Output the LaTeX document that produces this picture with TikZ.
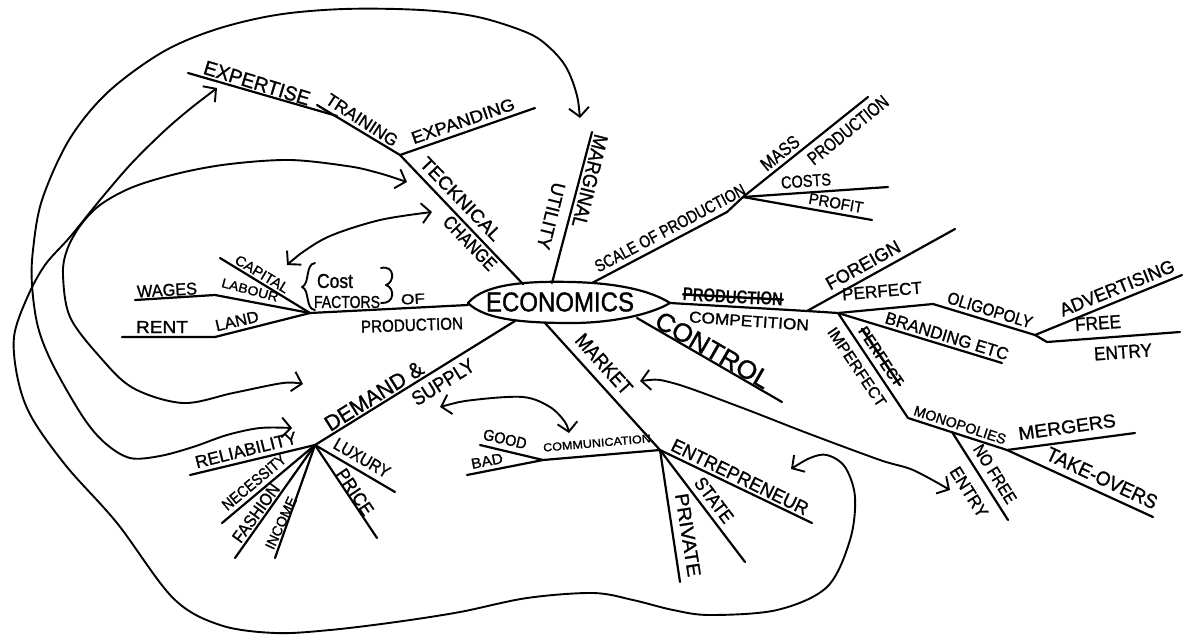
\documentclass[tikz,border=0pt]{standalone}
\usepackage{fontspec}
\setmainfont{Liberation Sans}[UprightFeatures={FakeBold=1.2}]
\usetikzlibrary{arrows.meta}
% set a label to a given width and cap height (both in pt)
\newcommand\handw[3]{\resizebox{#1pt}{#2pt}{#3}}
\begin{document}
\begin{tikzpicture}[x=1pt,y=-1pt,
  br/.style={line width=2.2pt,line cap=round,line join=round},
  cv/.style={line width=1.9pt,line cap=round,line join=round},
  both/.style={cv,{Straight Barb[length=9pt,width=20pt]}-{Straight Barb[length=9pt,width=20pt]}},
  tx/.style={inner sep=0pt,outer sep=0pt},
  strike/.style={line width=2.4pt,line cap=round}]
\useasboundingbox (0,0) rectangle (1186,638);

% ---------- central lens ----------
\draw[br] (468,303) .. controls (485,283) and (530,281) .. (572,282)
  .. controls (615,283) and (650,290) .. (670,303)
  .. controls (650,315) and (610,323) .. (572,323)
  .. controls (525,323) and (485,320) .. (468,303) -- cycle;
\node[tx] (econ) at (560,302) {\handw{148}{19}{ECONOMICS}};

\coordinate (eW) at (468,305);
\coordinate (eNW) at (523,284);
\coordinate (eN) at (552,283);
\coordinate (eNE) at (592,283);
\coordinate (eE) at (670,303);
\coordinate (eSE) at (637,318);
\coordinate (eS) at (545,323);
\coordinate (eSW) at (515,321);

% ---------- technical change ----------
\coordinate (jTech) at (400,155);
\coordinate (expandEnd) at (535,108);
\coordinate (trainEnd) at (317,105);
\coordinate (expertA) at (337,116);
\coordinate (expertB) at (188,73);
\draw[br] (eNW) -- (jTech) -- (expandEnd);
\draw[br] (jTech) -- (trainEnd);
\draw[br] (expertA) -- (expertB);
\node[tx,rotate=-46] (teck) at (461,199) {\handw{108}{13}{TECKNICAL}};
\node[tx,rotate=-46] (chg) at (470,243) {\handw{68}{13}{CHANGE}};
\node[tx,rotate=19] (expd) at (463,121) {\handw{108}{12}{EXPANDING}};
\node[tx,rotate=-33] (trn) at (362,120) {\handw{82}{12}{TRAINING}};
\node[tx,rotate=-17] (expt) at (257,83) {\handw{110}{14}{EXPERTISE}};

% ---------- marginal utility ----------
\coordinate (muEnd) at (592,132);
\draw[br] (eN) -- (muEnd);
\node[tx,rotate=-104] (marg) at (590,181) {\handw{95}{14}{MARGINAL}};
\node[tx,rotate=-104] (util) at (551,216) {\handw{68}{13}{UTILITY}};

% ---------- scale of production ----------
\coordinate (sBend) at (727,212);
\coordinate (jScale) at (743,197);
\coordinate (massEnd) at (868,97);
\coordinate (costEnd) at (888,187);
\coordinate (profEnd) at (872,220);
\draw[br] (eNE) -- (sBend) -- (jScale) -- (massEnd);
\draw[br] (jScale) -- (costEnd);
\draw[br] (jScale) -- (profEnd);
\node[tx,rotate=28] (scale) at (670,228) {\handw{168}{12}{SCALE OF PRODUCTION}};
\node[tx,rotate=39] (mass) at (780,153) {\handw{44}{13}{MASS}};
\node[tx,rotate=39] (mprod) at (848,130) {\handw{98}{13}{PRODUCTION}};
\node[tx,rotate=4] (costs) at (806,181) {\handw{50}{12}{COSTS}};
\node[tx,rotate=-10] (profit) at (836,203) {\handw{55}{11}{PROFIT}};

% ---------- competition ----------
\coordinate (jFor) at (807,311);
\coordinate (jComp) at (838,313);
\coordinate (forEnd) at (955,229);
\coordinate (perfBend) at (933,304);
\coordinate (jOlig) at (1035,335);
\coordinate (advEnd) at (1182,275);
\coordinate (freeA) at (1047,342);
\coordinate (freeEnd) at (1180,332);
\coordinate (brandEnd) at (1002,363);
\coordinate (jMono) at (908,418);
\coordinate (jNoFree) at (952,432);
\coordinate (nfEnd) at (1008,520);
\coordinate (jMerge) at (1007,450);
\coordinate (mergEnd) at (1135,433);
\coordinate (takeEnd) at (1153,517);
\draw[br] (eE) -- (jFor) -- (jComp) -- (perfBend) -- (jOlig) -- (advEnd);
\draw[br] (jOlig) -- (freeA) -- (freeEnd);
\draw[br] (jFor) -- (forEnd);
\draw[br] (jComp) -- (brandEnd);
\draw[br] (jComp) -- (jMono) -- (jMerge) -- (mergEnd);
\draw[br] (jMerge) -- (takeEnd);
\draw[br] (jNoFree) -- (nfEnd);
\node[tx,rotate=-3,font=\bfseries] (scrib) at (733,297) {\handw{100}{13}{PRODUCTION}};
\draw[strike] (scrib.west) -- (scrib.east);
\node[tx,rotate=-4] (comp) at (749,321) {\handw{120}{11}{COMPETITION}};
\node[tx,rotate=29] (for) at (863,265) {\handw{82}{13}{FOREIGN}};
\node[tx,rotate=5] (perf) at (882,291) {\handw{80}{12}{PERFECT}};
\node[tx,rotate=-17] (olig) at (990,310) {\handw{88}{12}{OLIGOPOLY}};
\node[tx,rotate=22] (adv) at (1117,288) {\handw{122}{13}{ADVERTISING}};
\node[tx,rotate=4] (free) at (1098,323) {\handw{46}{13}{FREE}};
\node[tx,rotate=4] (entry) at (1123,352) {\handw{58}{13}{ENTRY}};
\node[tx,rotate=-17] (brand) at (947,336) {\handw{128}{12}{BRANDING ETC}};
\node[tx,rotate=-56] (imperf) at (857,367) {\handw{92}{11}{IMPERFECT}};
\node[tx,rotate=-56,font=\bfseries] (xperf) at (881,357) {\handw{68}{11}{PERFECT}};
\draw[strike] (xperf.west) -- (xperf.east);
\node[tx,rotate=-18] (mono) at (960,425) {\handw{96}{10}{MONOPOLIES}};
\node[tx,rotate=8] (merg) at (1067,427) {\handw{98}{13}{MERGERS}};
\node[tx,rotate=-25] (take) at (1102,478) {\handw{120}{14}{TAKE-OVERS}};
\node[tx,rotate=-58] (nofree) at (995,474) {\handw{66}{12}{NO FREE}};
\node[tx,rotate=-58] (nfentry) at (969,492) {\handw{56}{12}{ENTRY}};

% ---------- control ----------
\coordinate (ctrlEnd) at (782,402);
\draw[br] (eSE) -- (ctrlEnd);
\node[tx,rotate=-30] (ctrl) at (713,350) {\handw{128}{18}{CONTROL}};

% ---------- market ----------
\coordinate (jMkt) at (660,450);
\coordinate (commMid) at (543,460);
\coordinate (badEnd) at (467,475);
\coordinate (goodEnd) at (480,445);
\coordinate (entEnd) at (812,523);
\coordinate (stateEnd) at (745,562);
\coordinate (privEnd) at (680,582);
\draw[br] (eS) -- (jMkt) -- (commMid) -- (badEnd);
\draw[br] (goodEnd) -- (commMid);
\draw[br] (jMkt) -- (entEnd);
\draw[br] (jMkt) -- (stateEnd);
\draw[br] (jMkt) -- (privEnd);
\node[tx,rotate=-48] (mkt) at (604,364) {\handw{74}{14}{MARKET}};
\node[tx,rotate=5] (comm) at (597,443) {\handw{108}{8}{COMMUNICATION}};
\node[tx,rotate=-13] (good) at (505,439) {\handw{44}{11}{GOOD}};
\node[tx,rotate=11] (bad) at (487,461) {\handw{32}{10}{BAD}};
\node[tx,rotate=-26] (entr) at (740,477) {\handw{150}{13}{ENTREPRENEUR}};
\node[tx,rotate=-53] (state) at (714,500) {\handw{52}{13}{STATE}};
\node[tx,rotate=-81] (priv) at (688,535) {\handw{84}{13}{PRIVATE}};

% ---------- demand and supply ----------
\coordinate (jDem) at (315,445);
\coordinate (relEnd) at (190,475);
\coordinate (necEnd) at (222,523);
\coordinate (fasEnd) at (235,558);
\coordinate (incEnd) at (275,558);
\coordinate (luxEnd) at (395,492);
\coordinate (priceEnd) at (377,538);
\draw[br] (eSW) -- (jDem) -- (relEnd);
\draw[br] (jDem) -- (necEnd);
\draw[br] (jDem) -- (fasEnd);
\draw[br] (jDem) -- (incEnd);
\draw[br] (jDem) -- (luxEnd);
\draw[br] (jDem) -- (priceEnd);
\node[tx,rotate=32] (dem) at (374,396) {\handw{112}{15}{DEMAND \&}};
\node[tx,rotate=32] (sup) at (443,382) {\handw{70}{14}{SUPPLY}};
\node[tx,rotate=14] (rel) at (246,450) {\handw{104}{12}{RELIABILITY}};
\node[tx,rotate=40] (nec) at (254,482) {\handw{78}{11}{NECESSITY}};
\node[tx,rotate=54] (fas) at (256,513) {\handw{68}{12}{FASHION}};
\node[tx,rotate=65] (inc) at (281,523) {\handw{56}{10}{INCOME}};
\node[tx,rotate=-30] (lux) at (362,458) {\handw{62}{12}{LUXURY}};
\node[tx,rotate=-56] (price) at (355,492) {\handw{52}{13}{PRICE}};

% ---------- cost factors of production ----------
\coordinate (jCost) at (310,313);
\coordinate (capEnd) at (220,258);
\coordinate (labA) at (215,295);
\coordinate (wagesEnd) at (135,300);
\coordinate (landA) at (215,337);
\coordinate (rentEnd) at (122,337);
\draw[br] (eW) -- (jCost) -- (capEnd);
\draw[br] (jCost) -- (labA) -- (wagesEnd);
\draw[br] (jCost) -- (landA) -- (rentEnd);
\node[tx,rotate=-31] (cap) at (262,274) {\handw{60}{10}{CAPITAL}};
\node[tx,rotate=-15] (lab) at (250,290) {\handw{58}{9}{LABOUR}};
\node[tx,rotate=3] (wages) at (167,290) {\handw{60}{12}{WAGES}};
\node[tx] (rent) at (162,327) {\handw{52}{12}{RENT}};
\node[tx,rotate=13] (land) at (237,321) {\handw{44}{11}{LAND}};
\node[tx] (cost) at (335,281) {\handw{36}{14}{Cost}};
\node[tx] (fact) at (347,302) {\handw{66}{12}{FACTORS}};
\node[tx,rotate=3] (of) at (413,299) {\handw{24}{10}{OF}};
\node[tx,rotate=2] (lprod) at (412,325) {\handw{102}{12}{PRODUCTION}};
% hand-drawn braces round "Cost factors"
\draw[cv] (315,263) .. controls (305,264) and (310,284) .. (302,287)
  .. controls (310,290) and (305,309) .. (315,310);
\draw[cv] (381,268) .. controls (395,265) and (395,282) .. (386,285)
  .. controls (395,288) and (395,304) .. (381,303);

% ---------- cross links ----------
\coordinate (aMU) at (580,118);
\coordinate (aRel) at (292,428);
\coordinate (aExp) at (217,88);
\coordinate (aEnt) at (791,469);
\coordinate (aTech) at (407,182);
\coordinate (aDem) at (303,384);
\coordinate (aCap) at (287,265);
\coordinate (aTech2) at (432,212);
\coordinate (aSup) at (440,407);
\coordinate (aComm) at (569,433);
\coordinate (aMkt) at (640,381);
\coordinate (aNF) at (950,490);

\draw[both] plot[smooth,tension=0.55] coordinates {(aMU) (576,92) (566,67) (550,48) (528,33)
  (478,17) (421,10) (344,9) (276,15) (214,30) (161,53) (107,93) (69,140) (42,200)
  (33,250) (32,285) (38,327) (53,365) (83,417) (105,443) (130,458) (160,456)
  (193,447) (227,435) (260,428) (aRel)};
\draw[both] plot[smooth,tension=0.55] coordinates {(aExp) (185,113) (160,135) (130,165)
  (100,200) (70,237) (45,265) (27,298) (14,337) (18,380) (32,418) (67,467) (117,523)
  (173,598) (220,625) (275,633) (330,630) (396,622) (460,612) (527,598) (593,593)
  (633,600) (673,610) (710,615) (777,610) (827,587) (850,540) (855,497) (845,467)
  (827,455) (810,458) (aEnt)};
\draw[both] plot[smooth,tension=0.55] coordinates {(aTech) (375,172) (347,166) (290,160)
  (230,164) (180,173) (133,187) (100,205) (80,226) (67,250) (63,275) (70,317)
  (100,357) (133,388) (183,403) (233,393) (283,383) (aDem)};
\draw[both] plot[smooth,tension=0.55] coordinates {(aCap) (300,254) (330,236) (380,220) (aTech2)};
\draw[both] plot[smooth,tension=0.55] coordinates {(aSup) (473,400) (523,397) (550,407) (565,422) (aComm)};
\draw[both] plot[smooth,tension=0.55] coordinates {(aMkt) (673,383) (740,407) (807,433) (880,460) (913,470) (aNF)};
\end{tikzpicture}
\end{document}
